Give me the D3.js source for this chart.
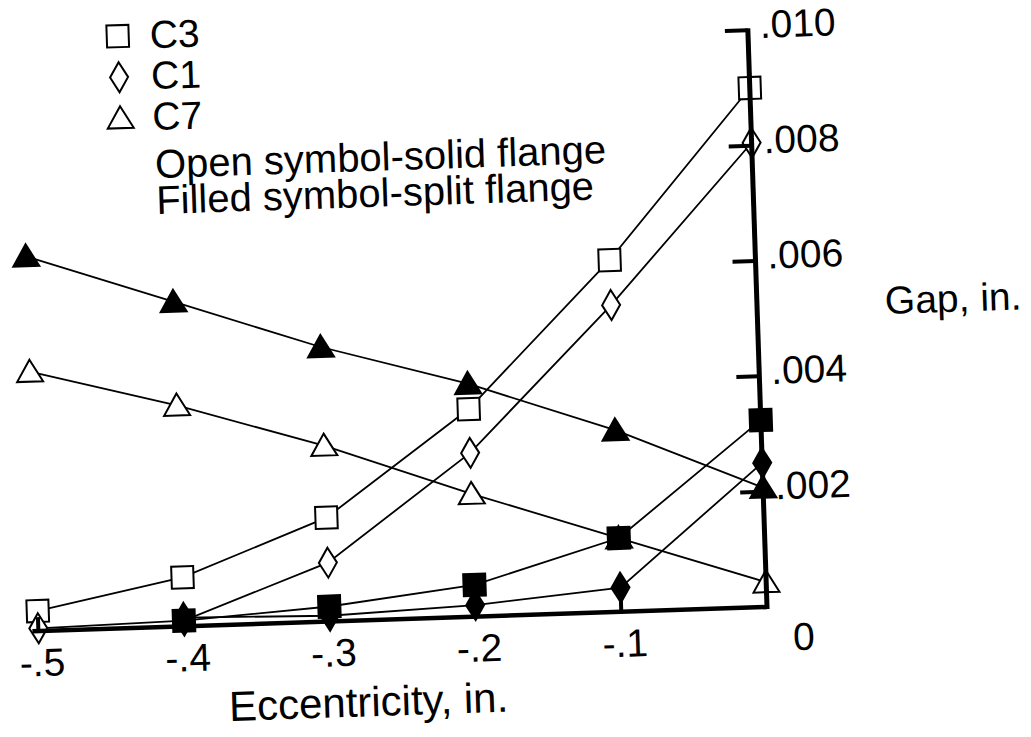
<!DOCTYPE html>
<html>
<head>
<meta charset="utf-8">
<script src="https://cdnjs.cloudflare.com/ajax/libs/d3/7.8.5/d3.min.js"></script>
<style>
	html, body { margin: 0; padding: 0; background: #fff; }
	svg { display: block; }
	text { font-family: "Liberation Sans", Arial, Helvetica, sans-serif; fill: #000; }
</style>
</head>
<body>
<svg id="chart" width="1031" height="737"></svg>
<script>
// values (gap, in. vs eccentricity, in.)
var eccentricity = [-0.5, -0.4, -0.3, -0.2, -0.1, 0];
var c3Solid = [0.00035, 0.00085, 0.0018, 0.0036, 0.0061, 0.0090];
var c1Solid = [0.00005, 0.0001, 0.00102, 0.00284, 0.00532, 0.00805];
var c7Solid = [0.0045, 0.00383, 0.00305, 0.00213, 0.00128, 0.00043];
var c3Split = [null, 0.0001, 0.00026, 0.00055, 0.00128, 0.00324];
var c1Split = [null, 0.00015, 0.0001, 0.0002, 0.00042, 0.0025];
var c7Split = [0.0065, 0.00563, 0.00476, 0.00404, 0.00315, 0.00207];

var xTicks = [-0.5, -0.4, -0.3, -0.2, -0.1];
var xTickLabels = ['-.5', '-.4', '-.3', '-.2', '-.1'];
var yTicks = [0.002, 0.004, 0.006, 0.008, 0.010];
var yTickLabels = ['.002', '.004', '.006', '.008', '.010'];
var legendNames = ['C3', 'C1', 'C7'];
var legendShapes = ['square', 'diamond', 'triangle'];
var legendNotes = ['Open symbol-solid flange', 'Filled symbol-split flange'];

var series = [
	{ name: 'C3', shape: 'square', filled: false, values: c3Solid },
	{ name: 'C1', shape: 'diamond', filled: false, values: c1Solid },
	{ name: 'C7', shape: 'triangle', filled: false, values: c7Solid },
	{ name: 'C1', shape: 'diamond', filled: true, values: c1Split },
	{ name: 'C3', shape: 'square', filled: true, values: c3Split },
	{ name: 'C7', shape: 'triangle', filled: true, values: c7Split }
];

var svg = d3.select('#chart');
// the scan is turned a little, so the whole drawing is too
var g = svg.append('g').attr('transform', 'rotate(-1.9 767 607)');

var x = d3.scaleLinear().domain([-0.5, 0]).range([38, 767]);
var y = d3.scaleLinear().domain([0, 0.010]).range([607, 30]);

function shapePath(shape) {
	if (shape === 'square') return 'M-11,-11H11V11H-11Z';
	if (shape === 'diamond') return 'M0,-15L9,0L0,15L-9,0Z';
	return 'M0,-12L13,10H-13Z';
}

function points(s) {
	return eccentricity.map(function (e, i) {
		return { x: e, v: s.values[i] };
	}).filter(function (d) { return d.v !== null; });
}

var line = d3.line()
	.x(function (d) { return x(d.x); })
	.y(function (d) { return y(d.v); });

// connecting lines
g.selectAll('path.seriesLine')
	.data(series)
	.enter().append('path')
	.classed('seriesLine', true)
	.attr('d', function (s) { return line(points(s)); })
	.attr('fill', 'none')
	.attr('stroke', '#000')
	.attr('stroke-width', 1.8);

// markers, open ones first
series.forEach(function (s) {
	g.selectAll(null)
		.data(points(s))
		.enter().append('path')
		.attr('d', shapePath(s.shape))
		.attr('transform', function (d) { return 'translate(' + x(d.x) + ',' + y(d.v) + ')'; })
		.attr('fill', s.filled ? '#000' : '#fff')
		.attr('stroke', '#000')
		.attr('stroke-width', 2);
});

// axes
var axisG = g.append('g');
axisG.append('line')
	.attr('x1', x(-0.5) - 6).attr('y1', y(0))
	.attr('x2', x(0)).attr('y2', y(0))
	.attr('stroke', '#000').attr('stroke-width', 4.5);
axisG.append('line')
	.attr('x1', x(0)).attr('y1', y(0) + 2)
	.attr('x2', x(0)).attr('y2', y(0.010) - 2)
	.attr('stroke', '#000').attr('stroke-width', 5);

axisG.selectAll('line.xTick')
	.data(xTicks)
	.enter().append('line')
	.classed('xTick', true)
	.attr('x1', function (d) { return x(d); })
	.attr('x2', function (d) { return x(d); })
	.attr('y1', y(0))
	.attr('y2', y(0) - 14)
	.attr('stroke', '#000').attr('stroke-width', 4);

axisG.selectAll('line.yTick')
	.data(yTicks)
	.enter().append('line')
	.classed('yTick', true)
	.attr('x1', x(0) - 23)
	.attr('x2', x(0))
	.attr('y1', function (d) { return y(d); })
	.attr('y2', function (d) { return y(d); })
	.attr('stroke', '#000').attr('stroke-width', 4);

axisG.selectAll('text.xLabel')
	.data(xTicks)
	.enter().append('text')
	.classed('xLabel', true)
	.attr('x', function (d) { return x(d) + 3; })
	.attr('y', y(0) + 45)
	.attr('text-anchor', 'middle')
	.style('font-size', '39px')
	.text(function (d, i) { return xTickLabels[i]; });

axisG.append('text')
	.attr('x', x(0) + 36)
	.attr('y', y(0) + 44)
	.attr('text-anchor', 'middle')
	.style('font-size', '39px')
	.text('0');

axisG.selectAll('text.yLabel')
	.data(yTicks)
	.enter().append('text')
	.classed('yLabel', true)
	.attr('x', x(0) + 12)
	.attr('y', function (d) { return y(d) + 8; })
	.style('font-size', '39px')
	.text(function (d, i) { return yTickLabels[i]; });

g.append('text')
	.attr('x', 226).attr('y', 703)
	.style('font-size', '42px')
	.text('Eccentricity, in.');

g.append('text')
	.attr('x', 895).attr('y', 318)
	.style('font-size', '39px')
	.text('Gap, in.');

// legend
var legend = g.append('g').attr('transform', 'translate(137,15)');
legend.selectAll('path')
	.data(legendShapes)
	.enter().append('path')
	.attr('d', function (d) { return shapePath(d); })
	.attr('transform', function (d, i) { return 'translate(0,' + (i * 41) + ')'; })
	.attr('fill', '#fff')
	.attr('stroke', '#000')
	.attr('stroke-width', 2);
legend.selectAll('text.name')
	.data(legendNames)
	.enter().append('text')
	.classed('name', true)
	.attr('x', 32)
	.attr('y', function (d, i) { return 13 + i * 41; })
	.style('font-size', '39px')
	.text(function (d) { return d; });
legend.selectAll('text.note')
	.data(legendNotes)
	.enter().append('text')
	.classed('note', true)
	.attr('x', 33)
	.attr('y', function (d, i) { return 143 + i * 36; })
	.style('font-size', '40px')
	.text(function (d) { return d; });
</script>
</body>
</html>
